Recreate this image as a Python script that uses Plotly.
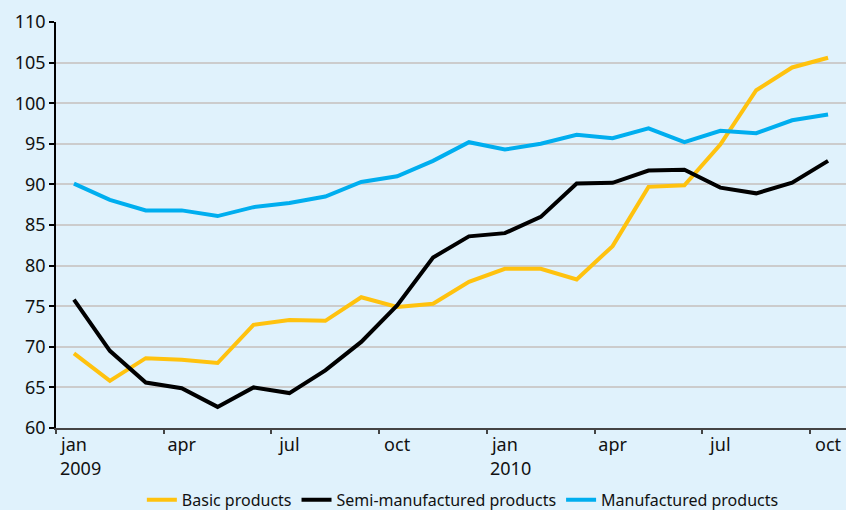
import plotly.graph_objects as go

months = ["jan", "feb", "mar", "apr", "may", "jun", "jul", "aug", "sep", "oct", "nov", "dec",
          "jan", "feb", "mar", "apr", "may", "jun", "jul", "aug", "sep", "oct"]
year_labels = ["2009", "2010"]

basic = [69.2, 65.8, 68.6, 68.4, 68.0, 72.7, 73.3, 73.2, 76.1, 74.9, 75.3, 78.0,
         79.6, 79.6, 78.3, 82.4, 89.7, 89.9, 94.9, 101.6, 104.4, 105.6]
semi = [75.8, 69.5, 65.6, 64.9, 62.6, 65.0, 64.3, 67.1, 70.6, 75.1, 81.0, 83.6,
        84.0, 86.0, 90.1, 90.2, 91.7, 91.8, 89.6, 88.9, 90.2, 92.9]
manuf = [90.1, 88.1, 86.8, 86.8, 86.1, 87.2, 87.7, 88.5, 90.3, 91.0, 92.9, 95.2,
         94.3, 95.0, 96.1, 95.7, 96.9, 95.2, 96.6, 96.3, 97.9, 98.6]

x = list(range(len(months)))
FONT = "Noto Sans"
TXT = "#111111"

fig = go.Figure()
fig.add_trace(go.Scatter(x=x, y=basic, mode="lines", name="Basic products",
                         line=dict(color="#ffc20e", width=4)))
fig.add_trace(go.Scatter(x=x, y=semi, mode="lines", name="Semi-manufactured products",
                         line=dict(color="#000000", width=4)))
fig.add_trace(go.Scatter(x=x, y=manuf, mode="lines", name="Manufactured products",
                         line=dict(color="#00aeef", width=4)))

label_pos = [i for i in x if i % 3 == 0]
boundaries = [i - 0.5 for i in label_pos]

for xi, yr in zip([0, 12], year_labels):
    fig.add_annotation(x=xi + 0.17, y=-0.0985, xref="x", yref="paper", text=yr,
                       showarrow=False, xanchor="center", yanchor="middle",
                       font=dict(family=FONT, size=18, color=TXT))

bg = "#e0f2fc"
fig.update_layout(
    width=846, height=510,
    margin=dict(l=56, r=0, t=22, b=82, autoexpand=False),
    paper_bgcolor=bg, plot_bgcolor=bg,
    font=dict(family=FONT, size=18, color=TXT),
    showlegend=True,
    legend=dict(orientation="h", x=0.515, xanchor="center", y=-0.177, yanchor="middle",
                font=dict(family=FONT, size=16, color=TXT),
                bgcolor="rgba(0,0,0,0)", tracegroupgap=0),
    xaxis=dict(range=[-0.5, 21.5], tickmode="array", tickvals=label_pos,
               ticktext=[months[i] for i in label_pos], ticks="", showgrid=False,
               zeroline=False, showline=True, linecolor="#444444", linewidth=1.5,
               automargin=False, tickfont=dict(family=FONT, size=18, color=TXT),
               minor=dict(tickmode="array", tickvals=boundaries, ticks="outside",
                          ticklen=4, tickcolor="#444444", tickwidth=1.5, showgrid=False)),
    yaxis=dict(range=[60, 110], tickmode="array", tickvals=list(range(60, 111, 5)),
               ticks="outside", ticklen=5, tickcolor="#000000", tickwidth=1.5,
               showline=True, linecolor="#000000", linewidth=1.5, automargin=False,
               showgrid=True, gridcolor="#cccccc", gridwidth=1.5, zeroline=False,
               tickfont=dict(family=FONT, size=18, color=TXT)),
)

fig.write_html("out.html", config={"displayModeBar": False},
               post_script="document.body.style.margin='0';")
